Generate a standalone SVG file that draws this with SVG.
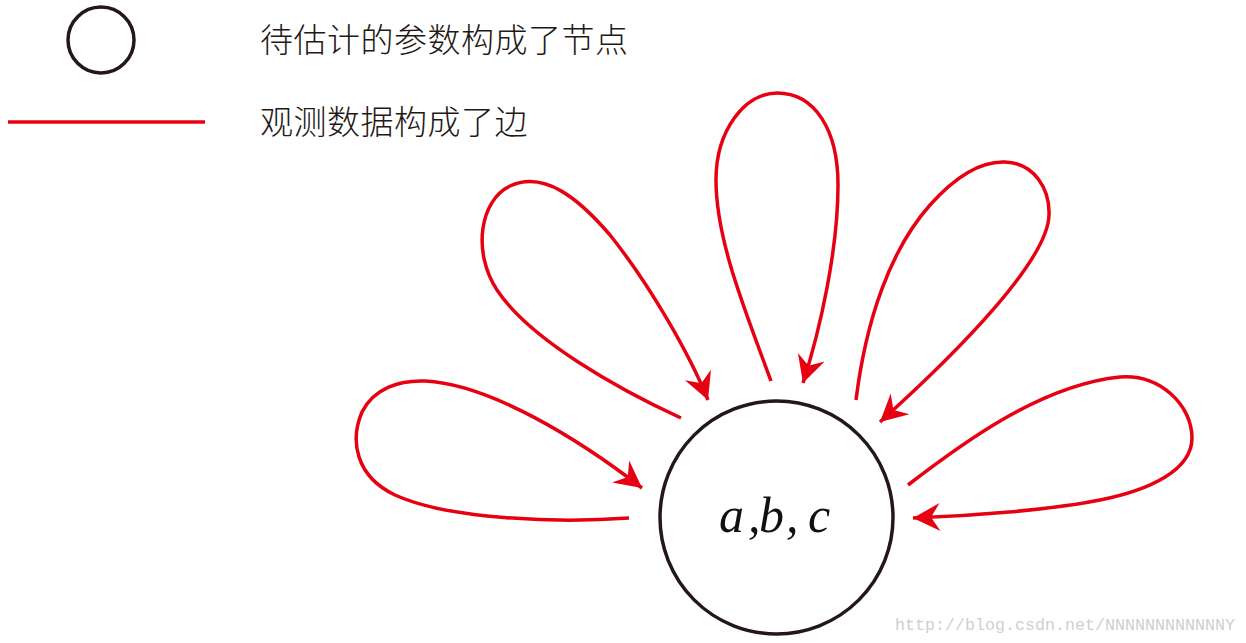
<svg xmlns="http://www.w3.org/2000/svg" width="1246" height="643" viewBox="0 0 1246 643">
<style>
.node{fill:none;stroke:#231815;stroke-width:3.5}
.edge{fill:none;stroke:#e60012;stroke-width:3.5;stroke-linecap:butt}
.cjk{font-family:"Noto Sans CJK SC","Noto Sans",sans-serif;font-size:33px;fill:#231815;font-weight:300;letter-spacing:0.5px}
.math{font-family:"Liberation Serif",serif;font-style:italic;font-size:50px;fill:#111}
.wm{font-family:"Liberation Mono",monospace;font-size:17px;fill:#d2cfca}
</style>
<defs>
<marker id="arr" markerUnits="userSpaceOnUse" viewBox="-28 -15 30 30" refX="0" refY="0" markerWidth="30" markerHeight="30" orient="auto" overflow="visible">
<path d="M0,0 L-27,-14 L-18,0 L-27,14 Z" fill="#e60012"/>
</marker>
</defs>
<rect width="1246" height="643" fill="#fff"/>
<g id="legend-node">
<circle class="node" cx="101" cy="40" r="33"/>
<text class="cjk" x="260" y="52">待估计的参数构成了节点</text>
</g>
<g id="legend-edge">
<line class="edge" x1="8" y1="122" x2="205" y2="122" stroke-width="3"/>
<text class="cjk" x="260" y="134">观测数据构成了边</text>
</g>
<g id="node-abc">
<circle class="node" cx="776.5" cy="517.5" r="116.5"/>
<text class="math" y="532"><tspan x="719">a</tspan><tspan x="748">,</tspan><tspan x="759">b</tspan><tspan x="786">,</tspan><tspan x="808">c</tspan></text>
</g>
<g id="connectors">
<path class="edge" marker-end="url(#arr)" d="M629,518 C560,523 450,520 395,495 C355,476 350,440 362,412 C374,388 400,380 425,381 C490,384 580,440 642,488"/>
<path class="edge" marker-end="url(#arr)" d="M681,418 C620,390 530,340 497,290 C472,252 480,200 510,186 C545,170 580,200 610,235 C650,285 690,355 708,400"/>
<path class="edge" marker-end="url(#arr)" d="M771,381 C745,310 716,240 716,180 C716,130 745,93 777,93 C815,93 838,130 838,185 C838,250 820,330 803,383"/>
<path class="edge" marker-end="url(#arr)" d="M856,400 C866,320 890,250 930,205 C955,177 980,161 1005,162 C1035,163 1050,190 1049,215 C1048,260 960,350 880,422"/>
<path class="edge" marker-end="url(#arr)" d="M908,485 C960,445 1040,385 1120,377 C1160,374 1192,405 1192,438 C1192,470 1150,490 1100,500 C1050,510 970,516 913,518"/>
</g>
<text class="wm" x="895" y="630" textLength="340" lengthAdjust="spacingAndGlyphs">http://blog.csdn.net/NNNNNNNNNNNNY</text>
</svg>
